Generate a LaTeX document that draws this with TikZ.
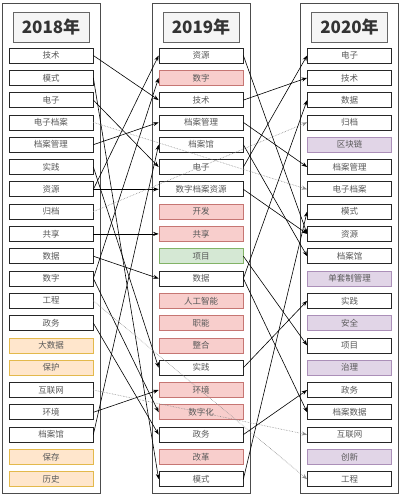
\documentclass[tikz,border=0pt]{standalone}
\usepackage{fontspec}
\setmainfont{Noto Sans CJK SC}
\usepackage{xcolor}
\usetikzlibrary{arrows.meta}
\definecolor{headfill}{HTML}{F5F5F5}
\definecolor{headline}{HTML}{666666}
\definecolor{headtext}{HTML}{333333}
\definecolor{orangefill}{HTML}{FFE6CC}
\definecolor{orangeline}{HTML}{D79B00}
\definecolor{redfill}{HTML}{F8CECC}
\definecolor{redline}{HTML}{B85450}
\definecolor{greenfill}{HTML}{D5E8D4}
\definecolor{greenline}{HTML}{82B366}
\definecolor{purplefill}{HTML}{E1D5E7}
\definecolor{purpleline}{HTML}{9673A6}

\begin{document}
\begin{tikzpicture}[x=1pt,y=-1pt,
  colframe/.style={draw=black!70,line width=0.9pt},
  yearhead/.style={draw=headline,fill=headfill,line width=0.7pt,minimum width=76pt,minimum height=30pt,
    inner sep=0pt,text=headtext,font=\fontsize{17}{20}\selectfont\bfseries},
  plainbox/.style={draw=black!85,fill=white,line width=0.7pt,minimum width=84pt,minimum height=15pt,
    inner sep=0pt,text=black!65,font=\fontsize{8.5}{10}\selectfont},
  orangebox/.style={plainbox,draw=orangeline!70,fill=orangefill},
  redbox/.style={plainbox,draw=redline!80,fill=redfill},
  greenbox/.style={plainbox,draw=greenline,fill=greenfill},
  purplebox/.style={plainbox,draw=purpleline!80,fill=purplefill},
  link/.style={draw=black,line width=0.6pt,-{Stealth[length=5.5pt,width=4pt]}},
  skip/.style={draw=black!45,line width=0.6pt,densely dotted,-{Stealth[length=5.5pt,width=4pt]}}]
\useasboundingbox (0,0) rectangle (404,498);
\newcommand{\yearcol}[4]{
  \draw[colframe] (#1-49,3) rectangle (#1+49,493);
  \node[yearhead] (#2h) at (#1,27) {#3年};
  \foreach \t/\s [count=\i] in {#4}
    \node[\s] (#2\i) at (#1,{55.5+22.3*(\i-1)}) {\t};
}

% ---------- 2018 ----------
\yearcol{51}{a}{2018}{技术/plainbox,模式/plainbox,电子/plainbox,电子档案/plainbox,档案管理/plainbox,
  实践/plainbox,资源/plainbox,归档/plainbox,共享/plainbox,数据/plainbox,数字/plainbox,工程/plainbox,
  政务/plainbox,大数据/orangebox,保护/orangebox,互联网/plainbox,环境/plainbox,档案馆/plainbox,
  保存/orangebox,历史/orangebox}

% ---------- 2019 ----------
\yearcol{201}{b}{2019}{资源/plainbox,数字/redbox,技术/plainbox,档案管理/plainbox,档案馆/plainbox,
  电子/plainbox,数字档案资源/plainbox,开发/redbox,共享/redbox,项目/greenbox,数据/plainbox,
  人工智能/redbox,职能/redbox,整合/redbox,实践/plainbox,环境/redbox,数字化/redbox,政务/plainbox,
  改革/redbox,模式/plainbox}

% ---------- 2020 ----------
\yearcol{349.5}{c}{2020}{电子/plainbox,技术/plainbox,数据/plainbox,归档/plainbox,区块链/purplebox,
  档案管理/plainbox,电子档案/plainbox,模式/plainbox,资源/plainbox,档案馆/plainbox,单套制管理/purplebox,
  实践/plainbox,安全/purplebox,项目/plainbox,治理/purplebox,政务/plainbox,档案数据/plainbox,
  互联网/plainbox,创新/purplebox,工程/plainbox}

% 2018 -> 2019
\draw[link] (a1.east) -- (b3.west);
\draw[link] (a2.east) -- (b20.west);
\draw[link] (a3.east) -- (b6.west);
\draw[link] (a5.east) -- (b4.west);
\draw[link] (a6.east) -- (b15.west);
\draw[link] (a7.east) -- (b1.west);
\draw[link] (a7.east) -- (b7.west);
\draw[link] (a9.east) -- (b9.west);
\draw[link] (a10.east) -- (b11.west);
\draw[link] (a11.east) -- (b2.west);
\draw[link] (a11.east) -- (b17.west);
\draw[link] (a13.east) -- (b18.west);
\draw[link] (a17.east) -- (b16.west);
\draw[link] (a18.east) -- (b5.west);

% 2018 -> 2020, skipping 2019
\draw[skip] (a4.east) -- (c7.west);
\draw[skip] (a8.east) -- (c4.west);
\draw[skip] (a12.east) -- (c20.west);
\draw[skip] (a16.east) -- (c18.west);

% 2019 -> 2020
\draw[link] (b1.east) -- (c9.west);
\draw[link] (b3.east) -- (c2.west);
\draw[link] (b4.east) -- (c6.west);
\draw[link] (b5.east) -- (c10.west);
\draw[link] (b6.east) -- (c1.west);
\draw[link] (b7.east) -- (c9.west);
\draw[link] (b10.east) -- (c14.west);
\draw[link] (b11.east) -- (c3.west);
\draw[link] (b11.east) -- (c17.west);
\draw[link] (b15.east) -- (c12.west);
\draw[link] (b18.east) -- (c16.west);
\draw[link] (b20.east) -- (c8.west);
\end{tikzpicture}
\end{document}
